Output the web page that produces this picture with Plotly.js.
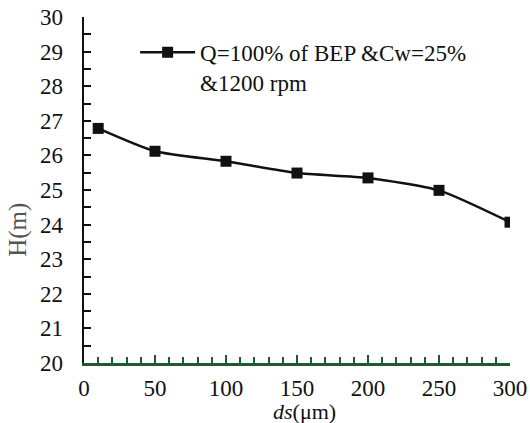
<!DOCTYPE html>
<html>
<head>
<meta charset="utf-8">
<script src="https://cdn.plot.ly/plotly-3.0.1.min.js"></script>
<style>html,body{margin:0;padding:0;background:#fff;}#chart{width:530px;height:423px;}</style>
</head>
<body>
<div id="chart"></div>
<script>
const ds = [10, 50, 100, 150, 200, 250, 300];
const H = [26.78, 26.12, 25.83, 25.49, 25.35, 24.99, 24.07];
const seriesName = "Q=100% of BEP &Cw=25%<br>&1200 rpm";
const xTitle = "<i>ds</i>(μm)";
const yTitle = "H(m)";

const font = "Liberation Serif, Times New Roman, serif";
const green = "#1d5a30";

const trace = {
  x: ds, y: H, name: seriesName, type: "scatter", mode: "lines+markers",
  line: {color: "#111", width: 2.5, shape: "spline", smoothing: 0.6},
  marker: {symbol: "square", size: 11, color: "#111"}
};

const layout = {
  width: 530, height: 423,
  margin: {l: 84, r: 20, t: 17, b: 60},
  paper_bgcolor: "#fff", plot_bgcolor: "#fff",
  font: {family: font, size: 23, color: "#111"},
  showlegend: true,
  legend: {x: 0.12, y: 0.96, xanchor: "left", yanchor: "top", valign: "top", itemwidth: 55,
           bgcolor: "rgba(0,0,0,0)", font: {family: font, size: 23, color: "#111"}},
  xaxis: {
    range: [0, 300], dtick: 50, tick0: 0,
    showline: true, linecolor: green, linewidth: 2.5,
    ticks: "inside", ticklen: 8, tickwidth: 2, tickcolor: green,
    minor: {dtick: 10, ticks: "inside", ticklen: 6, tickwidth: 2, tickcolor: green},
    showgrid: false, zeroline: false, ticklabelstandoff: 3,
    tickfont: {family: font, size: 23, color: "#111"}
  },
  yaxis: {
    range: [20, 30], dtick: 1, tick0: 20,
    showline: true, linecolor: "#111", linewidth: 2.5,
    ticks: "inside", ticklen: 7, tickwidth: 2, tickcolor: "#111",
    minor: {dtick: 0.5, ticks: "inside", ticklen: 7, tickwidth: 2, tickcolor: "#111"},
    showgrid: false, zeroline: false, ticklabelstandoff: 14,
    tickfont: {family: font, size: 23, color: "#111"}
  },
  annotations: [
    {text: xTitle, xref: "paper", yref: "paper", x: 0.517, y: -0.14, xanchor: "center", yanchor: "middle",
     showarrow: false, font: {family: font, size: 22, color: "#111"}},
    {text: yTitle, xref: "paper", yref: "paper", x: -0.155, y: 0.385, xanchor: "center", yanchor: "middle",
     textangle: -90, showarrow: false, font: {family: font, size: 25, color: "#555"}}
  ]
};

Plotly.newPlot("chart", [trace], layout, {displayModeBar: false, staticPlot: true});
</script>
</body>
</html>
